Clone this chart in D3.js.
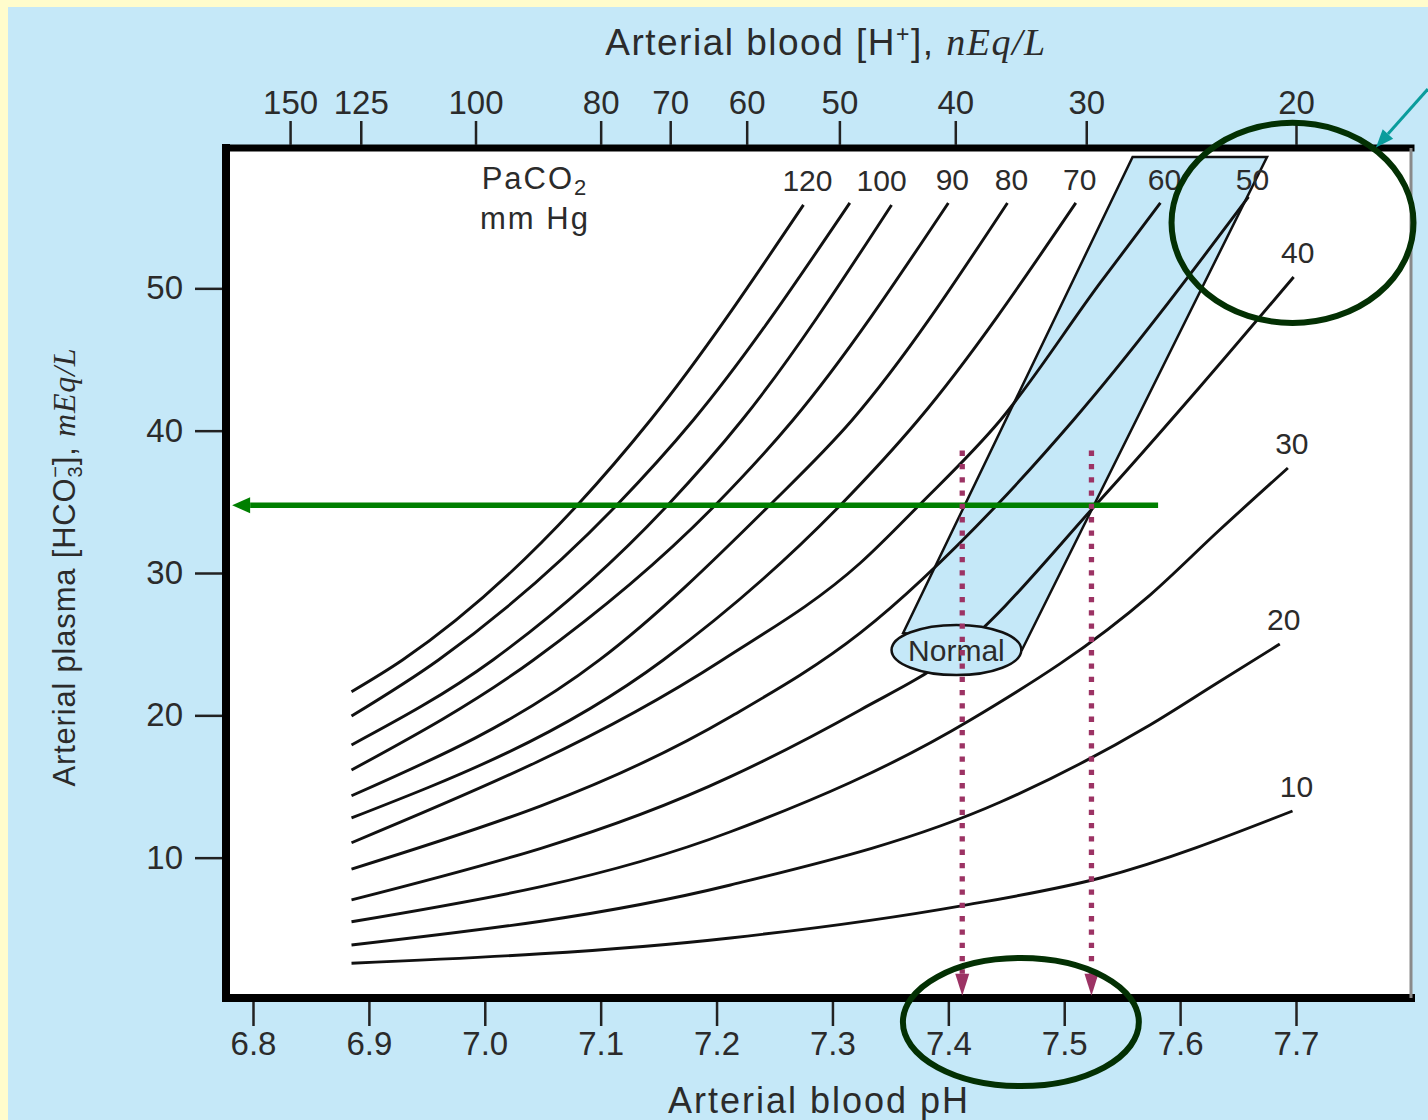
<!DOCTYPE html>
<html lang="en">
<head>
<meta charset="UTF-8">
<title>Acid-base nomogram</title>
<script src="https://cdnjs.cloudflare.com/ajax/libs/d3/7.8.5/d3.min.js"></script>
<style>
  body { margin: 0; background: #fffccc; }
  svg { display: block; }
  text { font-family: 'Liberation Sans', Arial, sans-serif; fill: #2b2b2b; }
  .ital { font-family: 'Liberation Serif', serif; font-style: italic; }
  .axis text { font-size: 33px; fill: #2b2b2b; }
  .axis line { stroke: #222; stroke-width: 2.5px; }
  .axis .domain { display: none; }
</style>
</head>
<body>
<div id="chart"></div>
<script>
// PaCO2 isopleths as [pH, HCO3 mEq/L]
const paco2Levels = [120, 110, 100, 90, 80, 70, 60, 50, 40, 30, 20, 10];
const iso120 = [[6.885, 21.66], [6.929, 23.89], [7.080, 34.78], [7.143, 40.75], [7.275, 55.86]];
const iso110 = [[6.885, 19.95], [6.960, 23.89], [7.114, 34.78], [7.180, 40.75], [7.315, 56.00]];
const iso100 = [[6.885, 17.92], [7.007, 23.89], [7.158, 34.78], [7.222, 40.75], [7.351, 55.86]];
const iso90  = [[6.885, 16.16], [7.042, 23.89], [7.199, 34.78], [7.266, 40.75], [7.400, 56.00]];
const iso80  = [[6.885, 14.35], [7.099, 23.89], [7.246, 34.78], [7.317, 40.75], [7.451, 56.00]];
const iso70  = [[6.885, 12.79], [7.154, 23.89], [7.307, 34.78], [7.374, 40.75], [7.510, 56.00]];
const iso60  = [[6.885, 11.05], [7.205, 23.89], [7.324, 30.70], [7.375, 34.78], [7.445, 40.75], [7.531, 50.38], [7.583, 56.00]];
const iso50  = [[6.885, 9.20], [7.212, 19.90], [7.324, 25.79], [7.442, 34.78], [7.508, 40.75], [7.659, 56.42]];
const iso40  = [[6.885, 7.03], [7.212, 15.69], [7.324, 20.38], [7.400, 24.03], [7.531, 35.13], [7.617, 43.07], [7.698, 50.80]];
const iso30  = [[6.885, 5.50], [7.212, 11.82], [7.419, 19.67], [7.574, 28.45], [7.634, 33.02], [7.693, 37.38]];
const iso20  = [[6.885, 3.86], [7.212, 8.08], [7.445, 13.91], [7.574, 19.32], [7.632, 22.27], [7.686, 25.01]];
const iso10  = [[6.885, 2.58], [7.212, 4.36], [7.410, 6.60], [7.531, 8.57], [7.697, 13.28]];
const isopleths = [iso120, iso110, iso100, iso90, iso80, iso70, iso60, iso50, iso40, iso30, iso20, iso10];
const labelled = [120, 100, 90, 80, 70, 60, 50, 40, 30, 20, 10];

// axes
const phTicks = [6.8, 6.9, 7.0, 7.1, 7.2, 7.3, 7.4, 7.5, 7.6, 7.7];
const hco3Ticks = [10, 20, 30, 40, 50];
const hTicks = [150, 125, 100, 80, 70, 60, 50, 40, 30, 20];
const hTickPH = [6.832, 6.893, 6.992, 7.100, 7.160, 7.226, 7.306, 7.406, 7.519, 7.700];

// shaded band + normal ellipse (pH, HCO3)
const bandCorners = [[7.361, 25.79], [7.559, 59.23], [7.675, 59.23], [7.4635, 24.59]];
const normalCentre = [7.407, 24.59];
const normalRadius = [0.056, 1.76];

// overlaid annotations
const greenArrow = [[7.581, 34.76], [6.782, 34.76]];
const purpleArrowPH = [7.412, 7.5235];
const purpleArrowHCO3 = [38.6, 0.3];
const circleCentres = [[7.697, 54.6], [7.4626, -1.55]];
const circleRadii = [[0.1044, 7.03], [0.1018, 4.5]];
const tealArrow = [[7.8138, 64.0], [7.769, 59.9]];

const W = 1428, H = 1120;
const frame = {left: 226, right: 1411, top: 148, bottom: 998};

const x = d3.scaleLinear().domain([6.8, 7.7]).range([253, 1296]);
const y = d3.scaleLinear().domain([0, 60]).range([1000, 146]);
const hScale = d3.scaleLinear().domain(hTicks).range(hTickPH.map(p => x(p)));

const svg = d3.select("#chart").append("svg")
    .attr("width", W)
    .attr("height", H);

svg.append("rect").attr("width", W).attr("height", H).attr("fill", "#fffccc");
svg.append("rect").attr("x", 8).attr("y", 7).attr("width", W - 8).attr("height", H - 7).attr("fill", "#c5e8f8");

svg.append("rect")
    .attr("x", frame.left).attr("y", frame.top)
    .attr("width", frame.right - frame.left).attr("height", frame.bottom - frame.top)
    .attr("fill", "#fff");

// band
svg.append("path")
    .attr("d", "M" + bandCorners.map(d => [x(d[0]), y(d[1])].join(",")).join("L") + "Z")
    .attr("fill", "#c5e8f8")
    .attr("stroke", "#111")
    .attr("stroke-width", 2.5);

// isopleths
const line = d3.line()
    .x(d => x(d[0]))
    .y(d => y(d[1]))
    .curve(d3.curveMonotoneX);

svg.append("g").selectAll("path")
    .data(isopleths)
    .enter().append("path")
    .attr("d", line)
    .attr("fill", "none")
    .attr("stroke", "#111")
    .attr("stroke-width", 2.9);

// curve labels at the upper end of each isopleth
const labelDx = {100: -14};
svg.append("g").selectAll("text")
    .data(paco2Levels.map((p, i) => ({p, end: isopleths[i][isopleths[i].length - 1]}))
        .filter(d => labelled.includes(d.p)))
    .enter().append("text")
    .attr("x", d => x(d.end[0]) + 4 + (labelDx[d.p] || 0))
    .attr("y", d => Math.max(y(d.end[1]) - 14, 190))
    .attr("text-anchor", "middle")
    .attr("font-size", 30)
    .text(d => d.p);

// normal ellipse
const nx = x(normalCentre[0]), ny = y(normalCentre[1]);
svg.append("ellipse")
    .attr("cx", nx).attr("cy", ny)
    .attr("rx", x(normalCentre[0] + normalRadius[0]) - nx)
    .attr("ry", ny - y(normalCentre[1] + normalRadius[1]))
    .attr("fill", "#c5e8f8")
    .attr("stroke", "#111")
    .attr("stroke-width", 2.5);
svg.append("text")
    .attr("x", nx).attr("y", ny + 11)
    .attr("text-anchor", "middle")
    .attr("font-size", 30)
    .text("Normal");

// PaCO2 heading
const pacoLabel = svg.append("text").attr("x", 535).attr("y", 189).attr("text-anchor", "middle")
    .attr("font-size", 31).attr("letter-spacing", 2);
pacoLabel.append("tspan").text("PaCO");
pacoLabel.append("tspan").attr("dy", 6).attr("font-size", 22).text("2");
svg.append("text").attr("x", 535).attr("y", 229).attr("text-anchor", "middle")
    .attr("font-size", 31).attr("letter-spacing", 2).text("mm Hg");

// frame
const frameG = svg.append("g").attr("stroke-linecap", "square");
frameG.append("line").attr("x1", frame.left).attr("x2", frame.left).attr("y1", frame.top).attr("y2", frame.bottom)
    .attr("stroke", "#000").attr("stroke-width", 8);
frameG.append("line").attr("x1", frame.left).attr("x2", frame.right).attr("y1", frame.top).attr("y2", frame.top)
    .attr("stroke", "#000").attr("stroke-width", 7);
frameG.append("line").attr("x1", frame.left).attr("x2", frame.right).attr("y1", frame.bottom).attr("y2", frame.bottom)
    .attr("stroke", "#000").attr("stroke-width", 8);
svg.append("line").attr("x1", frame.right).attr("x2", frame.right).attr("y1", frame.top).attr("y2", frame.bottom)
    .attr("stroke", "#8a8a8a").attr("stroke-width", 3);

// axes
svg.append("g").attr("class", "axis")
    .attr("transform", `translate(0,${frame.bottom + 4})`)
    .call(d3.axisBottom(x).tickValues(phTicks).tickFormat(d3.format(".1f")).tickSize(24).tickPadding(6));

svg.append("g").attr("class", "axis")
    .attr("transform", `translate(${frame.left - 4},0)`)
    .call(d3.axisLeft(y).tickValues(hco3Ticks).tickSize(27).tickPadding(12));

svg.append("g").attr("class", "axis")
    .attr("transform", `translate(0,${frame.top - 3})`)
    .call(d3.axisTop(hScale).tickValues(hTicks).tickSize(24).tickPadding(7));

// axis titles
const topTitle = svg.append("text").attr("x", 826).attr("y", 55).attr("text-anchor", "middle")
    .attr("font-size", 37).attr("letter-spacing", 1.5);
topTitle.append("tspan").text("Arterial blood [H");
topTitle.append("tspan").attr("dy", -13).attr("font-size", 23).text("+");
topTitle.append("tspan").attr("dy", 13).text("], ");
topTitle.append("tspan").attr("class", "ital").attr("font-size", 38).text("nEq/L");

const yTitle = svg.append("text").attr("transform", "translate(75,567) rotate(-90)")
    .attr("text-anchor", "middle").attr("font-size", 31).attr("letter-spacing", 0.8);
yTitle.append("tspan").text("Arterial plasma [HCO");
yTitle.append("tspan").attr("dy", 7).attr("font-size", 20).text("3");
yTitle.append("tspan").attr("dx", -12).attr("dy", -20).attr("font-size", 20).text("\u2212");
yTitle.append("tspan").attr("dy", 13).text("], ");
yTitle.append("tspan").attr("class", "ital").attr("font-size", 32).text("mEq/L");

svg.append("text").attr("x", 819).attr("y", 1113).attr("text-anchor", "middle")
    .attr("font-size", 36).attr("letter-spacing", 2).text("Arterial blood pH");

// arrows
function arrow(x1, y1, x2, y2, color, width, headLen, headHalf, dash) {
    const a = Math.atan2(y2 - y1, x2 - x1);
    const bx = x2 - headLen * Math.cos(a), by = y2 - headLen * Math.sin(a);
    const ln = svg.append("line")
        .attr("x1", x1).attr("y1", y1).attr("x2", bx).attr("y2", by)
        .attr("stroke", color).attr("stroke-width", width);
    if (dash) ln.attr("stroke-dasharray", dash);
    const px = -Math.sin(a) * headHalf, py = Math.cos(a) * headHalf;
    svg.append("path")
        .attr("d", `M${x2},${y2}L${bx + px},${by + py}L${bx - px},${by - py}Z`)
        .attr("fill", color);
}

arrow(x(greenArrow[0][0]), y(greenArrow[0][1]), x(greenArrow[1][0]), y(greenArrow[1][1]),
    "#007f00", 5.5, 18, 8);

purpleArrowPH.forEach(p => {
    arrow(x(p), y(purpleArrowHCO3[0]), x(p), y(purpleArrowHCO3[1]),
        "#9c3364", 5.3, 22, 7, "5.3 8");
});

// highlight circles
circleCentres.forEach((c, i) => {
    const cx = x(c[0]), cy = y(c[1]);
    svg.append("ellipse")
        .attr("cx", cx).attr("cy", cy)
        .attr("rx", x(c[0] + circleRadii[i][0]) - cx)
        .attr("ry", cy - y(c[1] + circleRadii[i][1]))
        .attr("fill", "none")
        .attr("stroke", "#033003")
        .attr("stroke-width", 6);
});

arrow(x(tealArrow[0][0]), y(tealArrow[0][1]), x(tealArrow[1][0]), y(tealArrow[1][1]),
    "#0a9c9c", 3, 18, 7);
</script>
</body>
</html>
